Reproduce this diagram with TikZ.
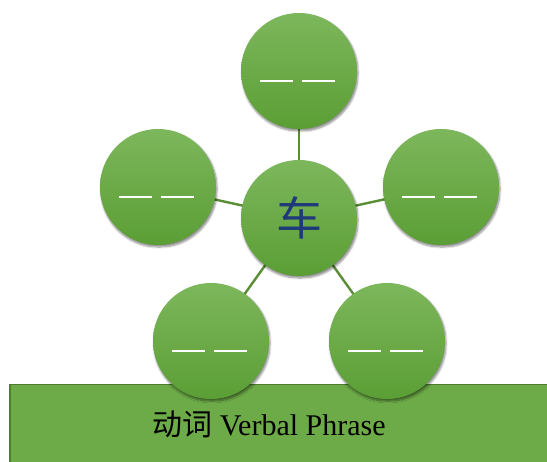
\documentclass[tikz,border=0pt]{standalone}
\usepackage{fontspec}
\setmainfont{Liberation Serif}
\newfontfamily\cjk{Noto Sans CJK SC}
\usetikzlibrary{shadows.blur}
\definecolor{gtop}{HTML}{7DB75C}
\definecolor{gbot}{HTML}{5B9E35}
\definecolor{gline}{HTML}{5A8E34}
\definecolor{rectfill}{HTML}{6DAB48}
\definecolor{rectborder}{HTML}{4F7D2E}
\definecolor{hanblue}{HTML}{1F3A78}
\begin{document}
\begin{tikzpicture}[x=1pt,y=-1pt,
  bubble/.style={circle, minimum size=116pt, inner sep=0pt, top color=gtop, bottom color=gbot, draw=none,
    blur shadow={shadow blur steps=6, shadow xshift=1pt, shadow yshift=-2pt, shadow opacity=45, shadow blur extra rounding=2pt}},
  blanks/.style={white, line width=1.8pt},
  link/.style={gline, line width=2.4pt}]
\useasboundingbox (0,0) rectangle (547,462);
\begin{scope}
\clip (0,0) rectangle (547,462);
\node[draw=rectborder, line width=1.5pt, fill=rectfill, minimum width=560pt, minimum height=90pt, anchor=north west, inner sep=0pt] (base) at (9,384) {};
\end{scope}
\node[font=\fontsize{30}{34}\selectfont] (label) at (269,424) {{\cjk 动词} Verbal Phrase};
\coordinate (c0) at (299,218);
\coordinate (c1) at (299,71);
\coordinate (c2) at (158,187);
\coordinate (c3) at (441,187);
\coordinate (c4) at (211,341);
\coordinate (c5) at (387,341);
\draw[link] (c0) -- (c1);
\draw[link] (c0) -- (c2);
\draw[link] (c0) -- (c3);
\draw[link] (c0) -- (c4);
\draw[link] (c0) -- (c5);
\foreach \i in {1,...,5}{
  \node[bubble] (b\i) at (c\i) {};
  \draw[blanks] ([xshift=-39pt,yshift=-10pt]c\i) -- ([xshift=-6pt,yshift=-10pt]c\i);
  \draw[blanks] ([xshift=3pt,yshift=-10pt]c\i) -- ([xshift=36pt,yshift=-10pt]c\i);
}
\node[bubble, text=hanblue, font=\cjk\fontsize{46}{50}\selectfont] (center) at (c0) {车};
\end{tikzpicture}
\end{document}
